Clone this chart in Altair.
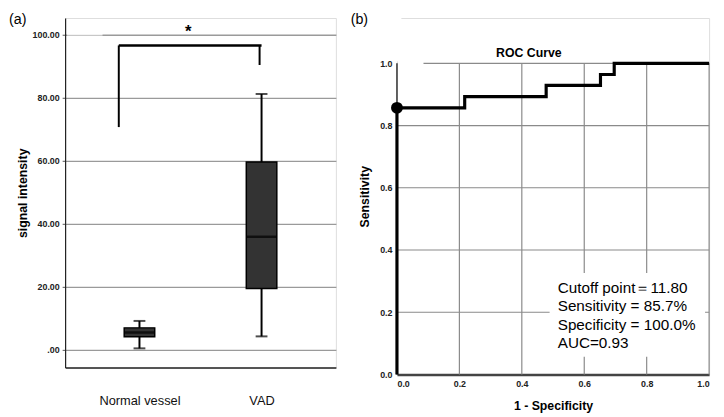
import altair as alt
import pandas as pd

# ---- Panel (a): box plot summary values ----
groups = ["Normal vessel", "VAD"]
whisker_low = [0.5, 4.3]
q1 = [4.2, 19.5]
median = [5.5, 35.9]
q3 = [7.0, 59.6]
whisker_high = [9.2, 81.2]

# significance bracket
bracket_left_low = 70.7
bracket_right_low = 90.4
bracket_top = 96.6
star_y = 100.8

# ---- Panel (b): ROC curve ----
fpr = [0.0, 0.0, 0.217, 0.217, 0.478, 0.478, 0.652, 0.652, 0.696, 0.696, 1.0]
tpr = [0.0, 0.857, 0.857, 0.893, 0.893, 0.929, 0.929, 0.964, 0.964, 1.0, 1.0]
cutoff_fpr = [0.0]
cutoff_tpr = [0.857]
roc_ticks = [0.0, 0.2, 0.4, 0.6, 0.8, 1.0]
info_lines = ["Cutoff point\uff1d11.80", "Sensitivity = 85.7%", "Specificity = 100.0%", "AUC=0.93"]

FONT = "Liberation Sans"
YTOP = 1.1456

box_df = pd.DataFrame({"group": groups, "lo": whisker_low, "q1": q1, "med": median,
                       "q3": q3, "hi": whisker_high})

xa = alt.X("group:N", scale=alt.Scale(type="point", domain=groups, padding=0.609),
           axis=alt.Axis(title=None, labelAngle=0, labelFontSize=13, labelFont=FONT,
                         labelColor="#111", labelPadding=27, tickSize=0, grid=False,
                         domain=True, domainColor="#222", domainWidth=1.5))
yscale = alt.Scale(domain=[-5.6, 105.3], nice=False, zero=False)
ya = alt.Y("lo:Q", scale=yscale,
           axis=alt.Axis(title="signal intensity", titleFont=FONT, titleFontSize=12.5,
                         titleFontWeight="bold", titleColor="#000", titlePadding=3,
                         values=[0, 20, 40, 60, 80, 100],
                         labelExpr="datum.value == 0 ? '.00' : format(datum.value, '.2f')",
                         labelFont=FONT, labelFontSize=9, labelFontWeight="bold",
                         labelColor="#222", labelPadding=3, tickSize=3, tickColor="#555",
                         grid=True, gridColor="#9a9a9a", gridWidth=1.3,
                         domain=True, domainColor="#222", domainWidth=1.2))

base_a = alt.Chart(box_df)
whisk = base_a.mark_rule(color="#000", strokeWidth=2).encode(x=xa, y=ya, y2="hi:Q")
box = base_a.mark_bar(size=31, color="#333333", stroke="#000", strokeWidth=1.5).encode(
    x=alt.X("group:N"), y=alt.Y("q1:Q"), y2="q3:Q")
med = base_a.mark_tick(orient="horizontal", size=31, thickness=2.5, color="#000").encode(
    x=alt.X("group:N"), y=alt.Y("med:Q"))
cap_hi = base_a.mark_tick(orient="horizontal", size=12, thickness=2, color="#000").encode(
    x=alt.X("group:N"), y=alt.Y("hi:Q"))
cap_lo = base_a.mark_tick(orient="horizontal", size=12, thickness=2, color="#000").encode(
    x=alt.X("group:N"), y=alt.Y("lo:Q"))

br_df = pd.DataFrame({"g1": [groups[0]], "g2": [groups[1]], "top": [bracket_top],
                      "l": [bracket_left_low], "r": [bracket_right_low], "s": [star_y],
                      "hundred": [100]})
br_base = alt.Chart(br_df)
gap100 = br_base.mark_rule(color="#f4f4f4", strokeWidth=1.6).encode(
    x=alt.value(2), x2=alt.value(38), y=alt.Y("hundred:Q"))
br_h = br_base.mark_rule(color="#000", strokeWidth=2.5).encode(
    x=alt.X("g1:N"), x2="g2:N", y=alt.Y("top:Q"), xOffset=alt.value(-21))
br_l = br_base.mark_rule(color="#000", strokeWidth=2).encode(
    x=alt.X("g1:N"), y=alt.Y("l:Q"), y2="top:Q", xOffset=alt.value(-21))
br_r = br_base.mark_rule(color="#000", strokeWidth=2).encode(
    x=alt.X("g2:N"), y=alt.Y("r:Q"), y2="top:Q", xOffset=alt.value(-2))
star = br_base.mark_text(text="*", font=FONT, fontSize=17, fontWeight="bold",
                         baseline="middle", color="#000").encode(
    x=alt.value(125), y=alt.Y("s:Q"))
lab_a = br_base.mark_text(text="(a)", font=FONT, fontSize=14.5, align="left",
                          baseline="top", color="#000").encode(
    x=alt.value(-57), y=alt.value(-5))

panel_a = alt.layer(gap100, whisk, box, med, cap_hi, cap_lo, br_h, br_l, br_r, star,
                    lab_a).properties(width=275, height=355)

# ---- Panel (b) ----
roc_df = pd.DataFrame({"fpr": fpr, "tpr": tpr, "order": list(range(len(fpr)))})
xs = alt.Scale(domain=[0, 1], nice=False)
ys = alt.Scale(domain=[0, YTOP], nice=False)
xb = alt.X("fpr:Q", scale=xs,
           axis=alt.Axis(title="1 - Specificity", titleFont=FONT, titleFontSize=12.5,
                         titleFontWeight="bold", titleColor="#000", titlePadding=12,
                         values=roc_ticks, format=".1f",
                         labelFont=FONT, labelFontSize=9, labelFontWeight="bold",
                         labelColor="#222", labelPadding=5, tickSize=0,
                         grid=False, domain=True, domainColor="#444", domainWidth=2.5))
yb = alt.Y("tpr:Q", scale=ys,
           axis=alt.Axis(title="Sensitivity", titleFont=FONT, titleFontSize=12.5,
                         titleFontWeight="bold", titleColor="#000", titlePadding=8,
                         values=roc_ticks, format=".1f",
                         labelFont=FONT, labelFontSize=9, labelFontWeight="bold",
                         labelColor="#222", labelPadding=5, tickSize=0,
                         grid=False, domain=False, domainOpacity=0, zindex=0))

vgrid_df = pd.DataFrame({"gx": roc_ticks, "gy0": [0.0] * len(roc_ticks),
                         "gy1": [1.0] * len(roc_ticks),
                         "gc": ["axis"] + ["grid"] * (len(roc_ticks) - 1)})
hgrid_df = pd.DataFrame({"hy": roc_ticks[1:],
                         "hx0": [0.0] * (len(roc_ticks) - 2) + [0.085],
                         "hx1": [1.0] * (len(roc_ticks) - 1)})
gv = alt.Chart(vgrid_df).mark_rule(strokeWidth=1.2).encode(
    x=alt.X("gx:Q", scale=xs),
    y=alt.Y("gy0:Q", scale=ys), y2=alt.Y2("gy1:Q"),
    color=alt.Color("gc:N", scale=alt.Scale(domain=["axis", "grid"],
                                            range=["#000000", "#8a8a8a"]), legend=None))
gh = alt.Chart(hgrid_df).mark_rule(color="#8a8a8a", strokeWidth=1.2).encode(
    y=alt.Y("hy:Q", scale=ys), x=alt.X("hx0:Q", scale=xs), x2=alt.X2("hx1:Q"))

roc = alt.Chart(roc_df).mark_line(color="#000", strokeWidth=3.2, clip=False).encode(
    x=xb, y=yb, order="order:Q")
pt_df = pd.DataFrame({"fpr": cutoff_fpr, "tpr": cutoff_tpr})
pt = alt.Chart(pt_df).mark_circle(size=145, color="#000", opacity=1).encode(
    x="fpr:Q", y="tpr:Q")

box_df2 = pd.DataFrame({"x": [0.489], "x2": [0.987], "y": [0.057], "y2": [0.326]})
wbox = alt.Chart(box_df2).mark_rect(color="white").encode(
    x="x:Q", x2="x2:Q", y="y:Q", y2="y2:Q")
info_df = pd.DataFrame({"x": [0.515], "y": [0.278]})
info = alt.Chart(info_df).mark_text(font=FONT, fontSize=15.5, align="left", baseline="middle",
                                    lineHeight=18.7, color="#000").encode(
    x="x:Q", y="y:Q", text=alt.value(info_lines))
ttl = alt.Chart(info_df).mark_text(text="ROC Curve", font=FONT, fontSize=12.5,
                                   fontWeight="bold", baseline="middle", color="#000").encode(
    x=alt.value(134), y=alt.value(36))
lab_b = alt.Chart(info_df).mark_text(text="(b)", font=FONT, fontSize=14.5, align="left",
                                     baseline="top", color="#000").encode(
    x=alt.value(-47), y=alt.value(-5))

mask_df = pd.DataFrame({"mx": [0.0], "my0": [1.006], "my1": [YTOP]})
mask = alt.Chart(mask_df).mark_rule(color="white", strokeWidth=9).encode(
    x=alt.X("mx:Q", scale=xs), y=alt.Y("my0:Q", scale=ys), y2=alt.Y2("my1:Q"))

panel_b = alt.layer(gv, gh, wbox, roc, pt, info, ttl, lab_b, mask).properties(
    width=317, height=362)

chart = alt.hconcat(panel_a, panel_b, spacing=13).properties(
    padding=0
).configure_view(stroke=None).configure(background="white")

chart.save("out.html", embed_options={"renderer": "svg", "actions": False})
